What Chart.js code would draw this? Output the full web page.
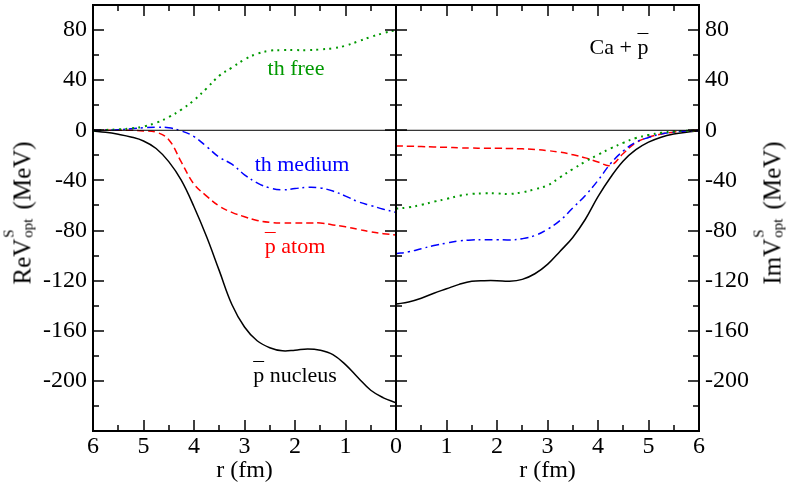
<!DOCTYPE html>
<html>
<head>
<meta charset="utf-8">
<script src="https://cdn.jsdelivr.net/npm/chart.js@4.4.1/dist/chart.umd.min.js"></script>
<style>
  html, body { margin: 0; padding: 0; background: #fff; }
  #wrap { position: relative; width: 791px; height: 488px; background: #fff; overflow: hidden;
          font-family: 'Liberation Serif', 'Times New Roman', serif; }
  canvas { position: absolute; top: 0; }
  .lbl { position: absolute; white-space: nowrap; line-height: 1; transform: translate(-50%, -50%); font-size: 22px; }
  .pb { text-decoration: overline; text-decoration-thickness: 1px; }
  .ytitle { position: absolute; white-space: nowrap; line-height: 1; font-size: 25px; color: #000;
            transform: translate(-50%, -50%) rotate(-90deg); }
  .st { position: relative; display: inline-block; width: 23px; height: 1em; }
  .s1 { position: absolute; left: 1px; top: -4px; font-size: 15px; line-height: 1; }
  .s2 { position: absolute; left: 1px; top: 15px; font-size: 15px; line-height: 1; }
</style>
</head>
<body>
<div id="wrap">
  <canvas id="cl" width="420" height="488" style="left:0px"></canvas>
  <canvas id="cr" width="419" height="488" style="left:372px"></canvas>
  <div class="lbl" style="left:296px; top:68px; color:#009900">th free</div>
  <div class="lbl" style="left:302px; top:164px; color:#0000ff">th medium</div>
  <div class="lbl" style="left:295px; top:246px; color:#ff0000"><span class="pb">p</span> atom</div>
  <div class="lbl" style="left:295px; top:375px; color:#000"><span class="pb">p</span> nucleus</div>
  <div class="lbl" style="left:619px; top:47px; color:#000">Ca + <span class="pb">p</span></div>
  <div class="ytitle" style="left:20px; top:213px">ReV<span class="st"><span class="s1">S</span><span class="s2">opt</span></span> (MeV)</div>
  <div class="ytitle" style="left:770px; top:213px">ImV<span class="st"><span class="s1">S</span><span class="s2">opt</span></span> (MeV)</div>
</div>
<script>
// ---- data (r in fm, potentials in MeV) ----
const r = [0, 0.25, 0.5, 0.75, 1, 1.25, 1.5, 1.75, 2, 2.25, 2.5, 2.75, 3, 3.25, 3.5, 3.75, 4, 4.25, 4.5, 4.75, 5, 5.25, 5.5, 5.75, 6];

// Real part (left panel)
const reNucleus = [-217.5, -213.5, -207.5, -197.5, -187, -179, -175.5, -174.5, -175.5, -176, -173.5, -168, -157, -139, -112, -85, -61, -40, -25, -14.5, -8.5, -5.3, -3.2, -1.6, -0.6];
const reAtom    = [-83.5, -82.5, -81, -79, -77, -75.5, -74, -74, -74, -74, -73.5, -72, -69, -65.5, -60.5, -52.5, -43, -25.5, -7.5, -1.5, -0.5, 0, 0, 0, 0];
const reMedium  = [-65.5, -63, -60, -57, -52.5, -48.5, -46, -45.5, -46.5, -47.5, -46, -42, -35.5, -27, -21.5, -13, -5, -0.5, 2, 2.5, 2, 1.2, 0.5, 0.2, 0];
const reFree    = [80, 77.5, 74.5, 71, 67.5, 65.5, 64.5, 64, 64, 64, 63.5, 61, 56.5, 50, 43.5, 33.5, 24, 16.5, 10.5, 6, 3, 1.5, 0.7, 0.3, 0];

// Imaginary part (right panel)
const imNucleus = [-138.7, -137, -134, -130, -126.5, -123, -120.5, -120, -120, -120.5, -119, -114.5, -107, -96.5, -85.5, -71, -53, -37.5, -24.5, -15.5, -9.5, -5.5, -3, -1.5, -0.5];
const imAtom    = [-12.5, -12.7, -13, -13.3, -13.6, -14, -14.2, -14.3, -14.4, -14.5, -14.8, -15.3, -16.2, -17.5, -19.5, -22, -25.3, -28, -18.5, -10, -5.5, -3, -1.5, -0.5, 0];
const imMedium  = [-98.5, -97, -94.5, -92, -90, -88.3, -87.5, -87.3, -87.3, -87.5, -86.5, -84, -79, -72, -62, -52, -40, -26.5, -16.5, -9.5, -5.7, -3, -1.5, -0.5, 0];
const imFree    = [-62.5, -61.5, -59.5, -57, -54.8, -52.3, -50.8, -50.3, -50.4, -50.8, -49.5, -47, -44, -37.5, -31, -25, -19.5, -14.5, -10, -6.2, -3.8, -2, -1, -0.4, 0];

const zeroLine = [0, 0];
const zeroR = [0, 6];

// ---- tick labels ----
const xTicksLeft  = [1, 2, 3, 4, 5, 6];
const xTicksRight = [0, 1, 2, 3, 4, 5, 6];
const yTicks = [-200, -160, -120, -80, -40, 0, 40, 80];

const FONT = "'Liberation Serif', 'Times New Roman', serif";

function pts(xs, ys, rev) {
  const a = xs.map((x, i) => ({ x: x, y: ys[i] }));
  return rev ? a.slice().reverse() : a;
}

function datasets(rev, nuc, atom, med, free) {
  return [
    { data: pts(zeroR, zeroLine, rev), borderColor: '#000', borderWidth: 1, tension: 0 },
    { data: pts(r, free, rev), borderColor: '#009900', borderWidth: 2, borderDash: [2, 4.5] },
    { data: pts(r, med, rev), borderColor: '#0000ff', borderWidth: 1.5, borderDash: [8, 4, 2, 4] },
    { data: pts(r, atom, rev), borderColor: '#ff0000', borderWidth: 1.5, borderDash: [7, 4] },
    { data: pts(r, nuc, rev), borderColor: '#000', borderWidth: 1.5 }
  ];
}

const frameTicks = {
  id: 'frameTicks',
  afterDatasetsDraw(chart) {
    const { ctx, chartArea: a, scales: { x, y } } = chart;
    ctx.save();
    ctx.strokeStyle = '#000';
    const seg = (x1, y1, x2, y2) => { ctx.beginPath(); ctx.moveTo(x1, y1); ctx.lineTo(x2, y2); ctx.stroke(); };
    ctx.lineWidth = 1.5;
    for (let i = 0; i <= 12; i++) {
      const v = i * 0.5;
      const px = Math.round(x.getPixelForValue(v));
      const L = (i % 2 === 0) ? 11 : 6;
      seg(px, a.bottom, px, a.bottom - L);
      seg(px, a.top, px, a.top + L);
    }
    for (let v = -240; v <= 100; v += 20) {
      const py = Math.round(y.getPixelForValue(v));
      const L = (v % 40 === 0) ? 11 : 6;
      seg(a.left, py, a.left + L, py);
      seg(a.right, py, a.right - L, py);
    }
    ctx.lineWidth = 2;
    ctx.strokeRect(a.left, a.top, a.right - a.left, a.bottom - a.top);
    ctx.restore();
  }
};

function makeChart(id, side) {
  const left = side === 'left';
  const data = left
    ? datasets(true, reNucleus, reAtom, reMedium, reFree)
    : datasets(false, imNucleus, imAtom, imMedium, imFree);
  const xt = left ? xTicksLeft : xTicksRight;
  return new Chart(document.getElementById(id), {
    type: 'line',
    data: { datasets: data.map(d => Object.assign({ pointRadius: 0, fill: false, tension: 0.4 }, d)) },
    plugins: [frameTicks],
    options: {
      responsive: false,
      animation: false,
      events: [],
      layout: { autoPadding: false, padding: { top: 5, bottom: 0, left: left ? 0 : 24, right: left ? 24 : 0 } },
      plugins: { legend: { display: false }, tooltip: { enabled: false } },
      scales: {
        x: {
          type: 'linear', min: 0, max: 6, reverse: left,
          grid: { display: false, drawTicks: false },
          border: { display: false },
          afterBuildTicks: s => { s.ticks = xt.map(v => ({ value: v })); },
          afterFit: s => { s.height = 57; s.paddingLeft = 0; s.paddingRight = 0; },
          ticks: { color: '#000', font: { family: FONT, size: 24 }, padding: 1, maxRotation: 0, autoSkip: false },
          title: { display: true, text: 'r (fm)', color: '#000', font: { family: FONT, size: 24 }, padding: { top: 0, bottom: 3 } }
        },
        y: {
          type: 'linear', min: -240, max: 100, position: left ? 'left' : 'right',
          grid: { display: false, drawTicks: false },
          border: { display: false },
          afterBuildTicks: s => { s.ticks = yTicks.map(v => ({ value: v })); },
          afterFit: s => { s.width = left ? 93 : 92; s.paddingTop = 0; s.paddingBottom = 0; },
          ticks: { color: '#000', font: { family: FONT, size: 24 }, padding: 6, autoSkip: false }
        }
      }
    }
  });
}

makeChart('cl', 'left');
makeChart('cr', 'right');
</script>
</body>
</html>
